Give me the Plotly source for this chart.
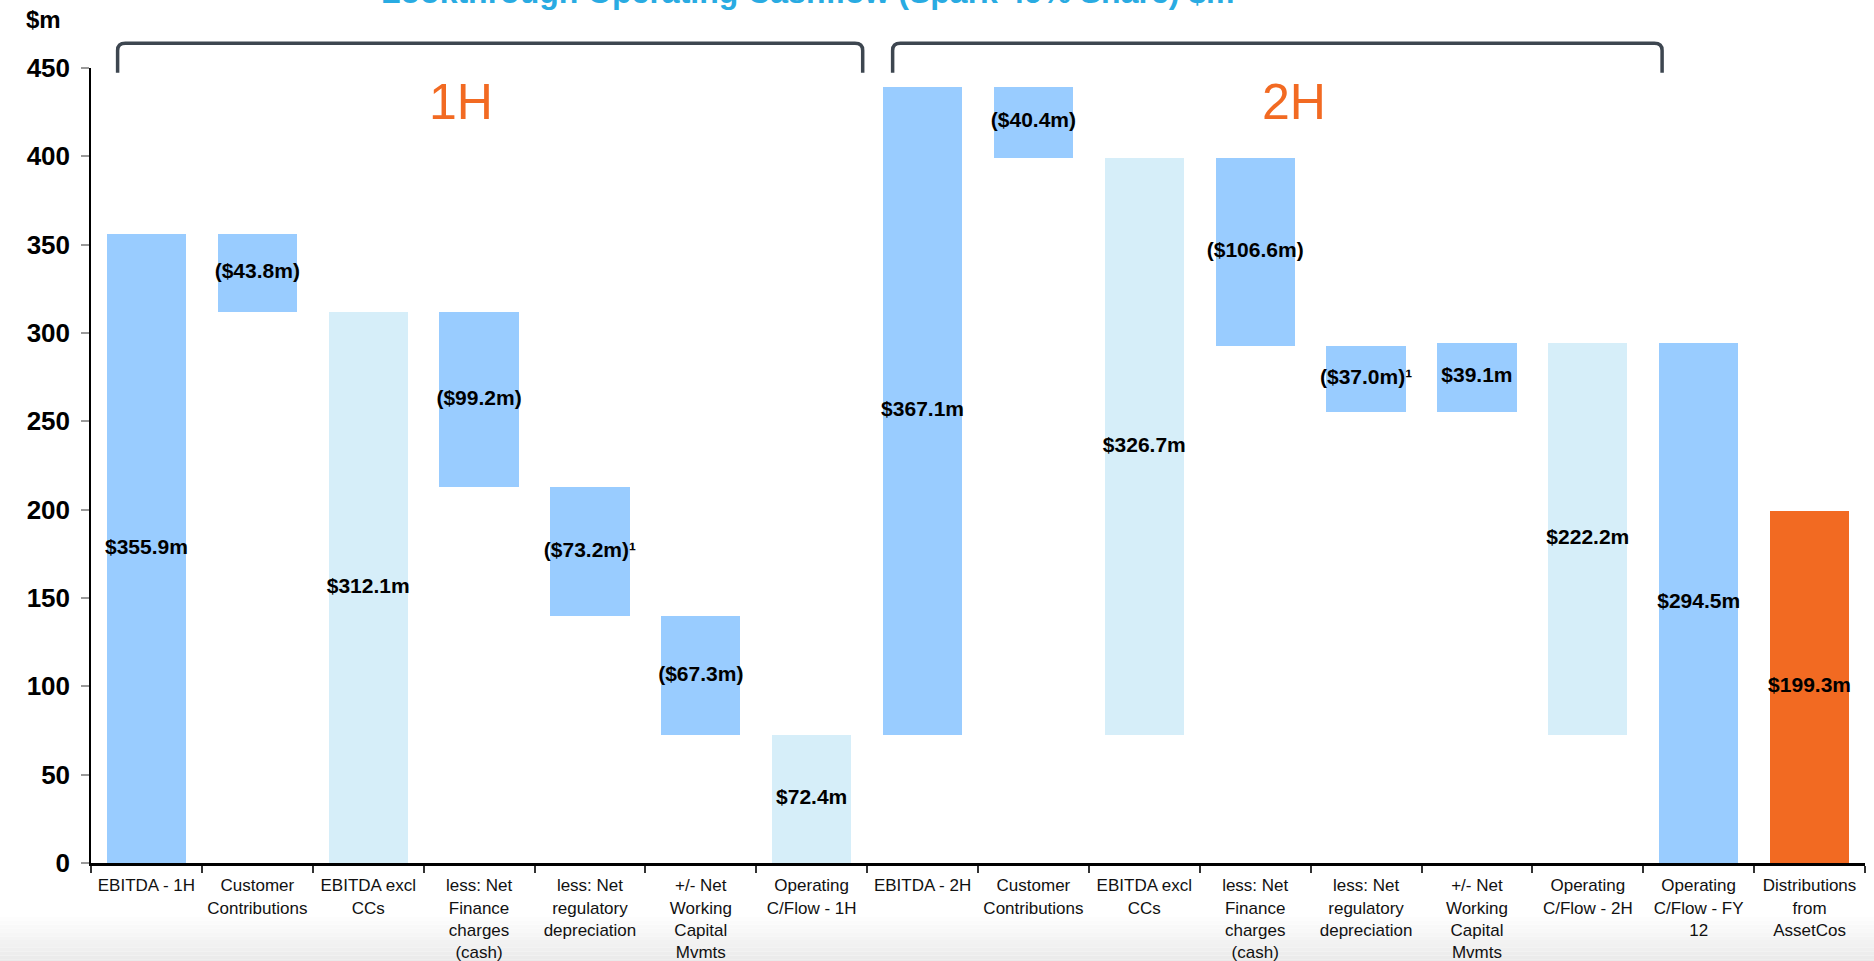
import plotly.graph_objects as go

categories = [
    "EBITDA - 1H", "Customer<br>Contributions", "EBITDA excl<br>CCs",
    "less: Net<br>Finance<br>charges<br>(cash)", "less: Net<br>regulatory<br>depreciation",
    "+/- Net<br>Working<br>Capital<br>Mvmts", "Operating<br>C/Flow - 1H",
    "EBITDA - 2H", "Customer<br>Contributions", "EBITDA excl<br>CCs",
    "less: Net<br>Finance<br>charges<br>(cash)", "less: Net<br>regulatory<br>depreciation",
    "+/- Net<br>Working<br>Capital<br>Mvmts", "Operating<br>C/Flow - 2H",
    "Operating<br>C/Flow - FY<br>12", "Distributions<br>from<br>AssetCos",
]
values = [355.9, -43.8, 312.1, -99.2, -73.2, -67.3, 72.4,
          367.1, -40.4, 326.7, -106.6, -37.0, 39.1, 222.2,
          294.5, 199.3]
# measure: "rel" = step from running level, "sub" = subtotal from start of the half,
# "tot" = total from zero, "dist" = standalone from zero
measures = ["rel", "rel", "sub", "rel", "rel", "rel", "sub",
            "rel", "rel", "sub", "rel", "rel", "rel", "sub",
            "tot", "dist"]
half_start_idx = [0, 7]
labels = ["$355.9m", "($43.8m)", "$312.1m", "($99.2m)", "($73.2m)¹", "($67.3m)", "$72.4m",
          "$367.1m", "($40.4m)", "$326.7m", "($106.6m)", "($37.0m)¹", "$39.1m", "$222.2m",
          "$294.5m", "$199.3m"]

C_DARK = "#99CCFF"
C_LIGHT = "#D6EEF9"
C_ORANGE = "#F26A22"

bases, heights, colors = [], [], []
level = 0.0
half_base = 0.0
for i, (v, m) in enumerate(zip(values, measures)):
    if i in half_start_idx:
        half_base = level
    if m == "rel":
        b = level if v >= 0 else level + v
        bases.append(b); heights.append(abs(v)); colors.append(C_DARK)
        level += v
    elif m == "sub":
        bases.append(half_base); heights.append(v); colors.append(C_LIGHT)
        level = half_base + v
    elif m == "tot":
        bases.append(0); heights.append(v); colors.append(C_DARK)
    else:
        bases.append(0); heights.append(v); colors.append(C_ORANGE)

xs = list(range(len(categories)))
mids = [b + h / 2 for b, h in zip(bases, heights)]

fig = go.Figure()
fig.add_trace(go.Bar(x=xs, y=heights, base=bases, marker=dict(color=colors, line=dict(width=0)),
                     width=0.715, hoverinfo="skip"))
fig.add_trace(go.Scatter(x=xs, y=mids, mode="text", text=["<b>%s</b>" % t for t in labels],
                         textfont=dict(family="Liberation Sans, Arial", size=21, color="black"),
                         hoverinfo="skip"))

# bottom gradient band
n = 12
for k in range(n):
    y0 = -0.068 - k * (0.058 / n)
    y1 = y0 - 0.058 / n
    g = int(255 - (255 - 234) * (k + 1) / n)
    fig.add_shape(type="rect", xref="paper", yref="paper", x0=-0.2, x1=1.1, y0=y1, y1=y0,
                  line=dict(width=0), fillcolor="rgb(%d,%d,%d)" % (g, g, g), layer="below")

def bracket(x0, x1, yt, yb):
    dx, dy = 0.07, 0.009
    return (f"M {x0},{yb} L {x0},{yt-dy} Q {x0},{yt} {x0+dx},{yt} "
            f"L {x1-dx},{yt} Q {x1},{yt} {x1},{yt-dy} L {x1},{yb}")

for (a, b) in [(-0.26, 6.46), (6.73, 13.67)]:
    fig.add_shape(type="path", xref="x", yref="paper", path=bracket(a, b, 1.031, 0.994),
                  line=dict(color="#3D4650", width=3.5))

fig.add_annotation(x=2.84, y=431, xref="x", yref="y", text="1H", showarrow=False,
                   font=dict(family="Liberation Sans, Arial", size=50, color="#F26A22"))
fig.add_annotation(x=10.35, y=431, xref="x", yref="y", text="2H", showarrow=False,
                   font=dict(family="Liberation Sans, Arial", size=50, color="#F26A22"))
fig.add_annotation(x=0.404, y=1.121, xref="paper", yref="paper",
                   text="<b>Lookthrough Operating Cashflow (Spark 49% Share) $m</b>",
                   showarrow=False,
                   font=dict(family="Liberation Sans, Arial", size=32, color="#29ABE2"))
fig.add_annotation(x=-0.0375, y=1.081, xref="paper", yref="paper", text="<b>$m</b>",
                   showarrow=False,
                   font=dict(family="Liberation Sans, Arial", size=24, color="black"))

fig.update_layout(
    width=1874, height=961,
    margin=dict(l=91, r=9, t=68, b=98, autoexpand=False),
    paper_bgcolor="white", plot_bgcolor="white",
    showlegend=False, bargap=0,
    font=dict(family="Liberation Sans, Arial", color="black"),
)
fig.update_xaxes(
    range=[-0.5, 15.5], tickvals=xs, ticktext=categories, ticks="",
    tickfont=dict(size=17, color="#111"), showgrid=False, zeroline=False,
    showline=True, linecolor="black", linewidth=3, tickangle=0, automargin=False,
    minor=dict(tickvals=[i - 0.5 for i in range(len(categories) + 1)], ticks="outside",
               ticklen=7, tickwidth=2, tickcolor="#333"),
    ticklabelstandoff=5,
)
fig.update_yaxes(
    range=[0, 450], dtick=50, ticks="outside", ticklen=8, tickcolor="#999", tickwidth=1.5,
    tickfont=dict(size=26, color="black", weight="bold"), showgrid=False, zeroline=False,
    showline=True, linecolor="black", linewidth=1.5, ticklabelstandoff=6, automargin=False,
)

fig.write_html("out.html")
